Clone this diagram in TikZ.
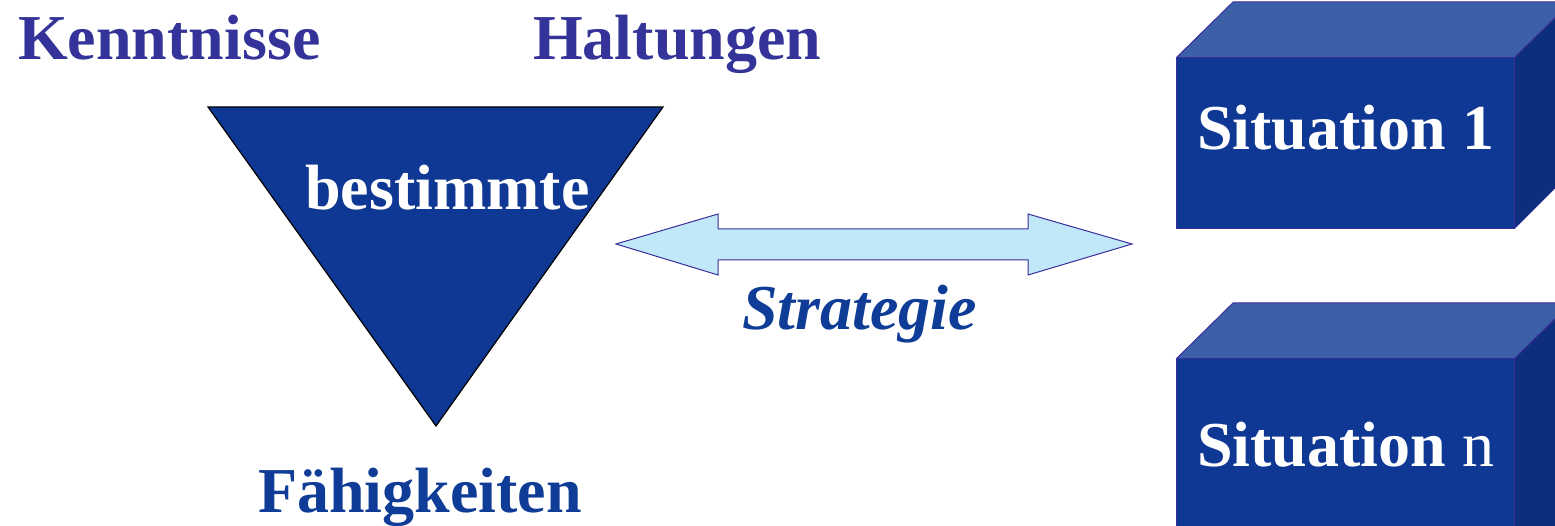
\documentclass[tikz,border=0pt]{standalone}
\usepackage{fontspec}
\setmainfont{Liberation Serif}
\definecolor{labpurple}{HTML}{333399}
\definecolor{labblue}{HTML}{0F3C96}
\definecolor{frontblue}{HTML}{0F3794}
\definecolor{topblue}{HTML}{3C60A8}
\definecolor{sideblue}{HTML}{0C2E7C}
\definecolor{edgepurple}{HTML}{3A2E99}
\definecolor{arrowfill}{HTML}{C0E8F8}
\tikzset{
  lab/.style={anchor=base west, inner sep=0pt, font=\fontsize{64}{70}\selectfont\bfseries},
  faceline/.style={draw=edgepurple, line width=1pt, line join=miter},
}
\begin{document}
\begin{tikzpicture}[x=1pt,y=-1pt]
\useasboundingbox (0,0) rectangle (1555,526);
\clip (0,0) rectangle (1555,526);
% triangle
\coordinate (tA) at (208,107);
\coordinate (tB) at (663,107);
\coordinate (tC) at (436,426);
\fill[frontblue] (tA) -- (tB) -- (tC) -- cycle;
\draw[black, line width=1.2pt, line join=miter] (tA) -- (tB) -- (tC) -- cycle;
% labels
\node[lab, text=labpurple] (kenn) at (18,60) {Kenntnisse};
\node[lab, text=labpurple] (halt) at (533,60) {Haltungen};
\node[lab, text=labblue] (faeh) at (258,512) {Fähigkeiten};
\node[lab, text=white] (best) at (305,210) {bestimmte};
% double arrow
\coordinate (aL) at (616,244);
\coordinate (aR) at (1132,244);
\draw[edgepurple, line width=1pt, fill=arrowfill, line join=miter]
  (aL) -- (718,214) -- (718,229) -- (1028,229) -- (1028,214) -- (aR)
  -- (1028,275) -- (1028,260) -- (718,260) -- (718,275) -- cycle;
\node[lab, text=labblue, font=\fontsize{64}{70}\selectfont\bfseries\itshape] (strat) at (742,330) {Strategie};
% box 1
\fill[frontblue] (1176,58) rectangle (1514,229);
\fill[topblue] (1176,58) -- (1233,2) -- (1571,2) -- (1514,58) -- cycle;
\fill[sideblue] (1514,58) -- (1571,2) -- (1571,172) -- (1514,229) -- cycle;
\draw[faceline] (1176,58) rectangle (1514,229);
\draw[faceline] (1176,58) -- (1233,2) -- (1571,2);
\draw[faceline] (1514,58) -- (1571,2);
\draw[faceline] (1514,229) -- (1571,172);
\node[lab, text=white] (sit1) at (1197,150) {Situation 1};
% box 2
\fill[frontblue] (1176,359) rectangle (1514,540);
\fill[topblue] (1176,359) -- (1233,303) -- (1571,303) -- (1514,359) -- cycle;
\fill[sideblue] (1514,359) -- (1571,303) -- (1571,540) -- (1514,540) -- cycle;
\draw[faceline] (1176,540) -- (1176,359) -- (1514,359) -- (1514,540);
\draw[faceline] (1176,359) -- (1233,303) -- (1571,303);
\draw[faceline] (1514,359) -- (1571,303);
\node[lab, text=white] (sitn) at (1197,466) {Situation \mdseries n};
\end{tikzpicture}
\end{document}
